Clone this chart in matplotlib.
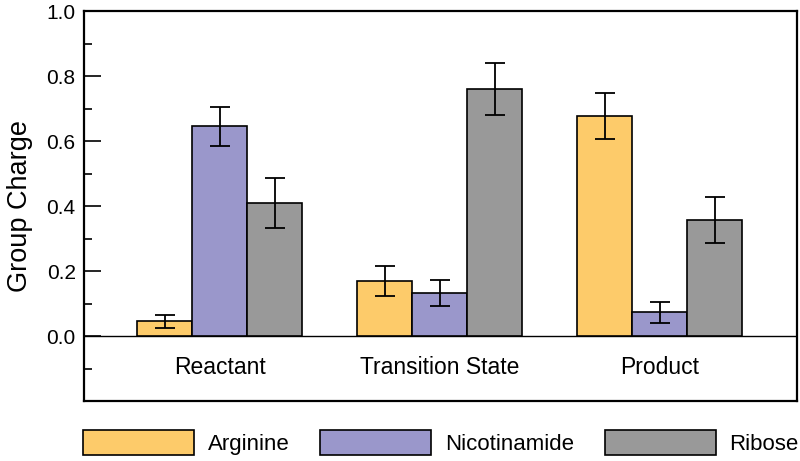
import matplotlib
matplotlib.use("Agg")
import matplotlib.pyplot as plt
from matplotlib.ticker import MultipleLocator
import numpy as np

plt.rcParams['font.family'] = ['Liberation Sans', 'DejaVu Sans']

# data
states = ["Reactant", "Transition State", "Product"]
groups = ["Arginine", "Nicotinamide", "Ribose"]
colors = ["#FDCB6A", "#9A97CB", "#999999"]

arginine = [0.045, 0.17, 0.677]
nicotinamide = [0.645, 0.132, 0.073]
ribose = [0.41, 0.76, 0.356]

arginine_err = [0.021, 0.046, 0.071]
nicotinamide_err = [0.061, 0.039, 0.033]
ribose_err = [0.076, 0.081, 0.071]

values = [arginine, nicotinamide, ribose]
errors = [arginine_err, nicotinamide_err, ribose_err]

fig = plt.figure(figsize=(8, 4.61), dpi=100)
ax = fig.add_axes([0.105, 0.130, 0.891, 0.846])

x = np.arange(len(states))
width = 0.25
for k in range(len(groups)):
    ax.bar(x + (k - 1) * width, values[k], width, color=colors[k],
           edgecolor="black", linewidth=1.2, label=groups[k],
           yerr=errors[k], capsize=7,
           error_kw=dict(elinewidth=1.3, capthick=1.3, ecolor="black"))

ax.axhline(0, color="black", linewidth=1.0, zorder=0)

for i, name in enumerate(states):
    ax.text(i, -0.118, name, ha="center", va="baseline", fontsize=16.5)

ax.set_xlim(-0.618, 2.623)
ax.set_ylim(-0.2, 1.0)
ax.set_xticks([])
ax.yaxis.set_major_locator(MultipleLocator(0.2))
ax.yaxis.set_minor_locator(MultipleLocator(0.1))
ax.set_yticks([0.0, 0.2, 0.4, 0.6, 0.8, 1.0])
ax.set_yticklabels(["0.0", "0.2", "0.4", "0.6", "0.8", "1.0"])
ax.tick_params(axis="y", which="major", direction="in", length=12, width=1.2,
               labelsize=15, pad=6)
ax.tick_params(axis="y", which="minor", direction="in", length=6, width=1.2)
ax.set_ylabel("Group Charge", fontsize=19.5, labelpad=10)
for s in ax.spines.values():
    s.set_linewidth(1.6)

fig.legend(loc="center", bbox_to_anchor=(0.551, 0.040), ncol=3, frameon=False,
           fontsize=16, handlelength=5.0, handleheight=1.4, handletextpad=0.6,
           columnspacing=1.4)

fig.savefig("out.png", dpi=100)
